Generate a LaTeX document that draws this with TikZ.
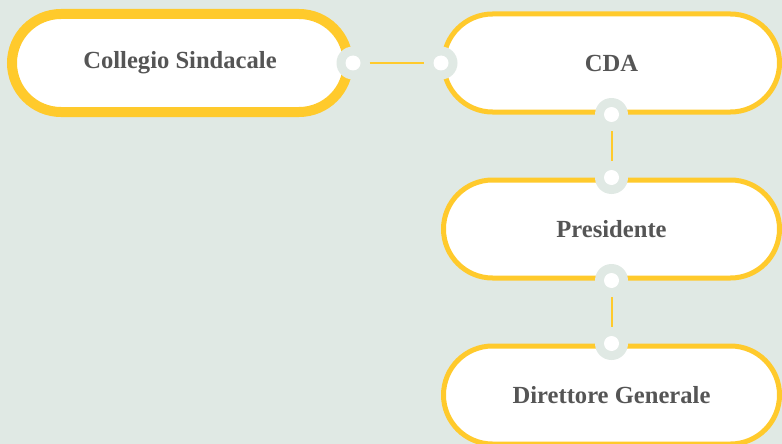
\documentclass[tikz,border=0pt]{standalone}
\usepackage{fontspec}
\newfontfamily\orgfont{Liberation Serif}
\usetikzlibrary{shapes.misc}

\definecolor{bgcol}{HTML}{E0E9E4}
\definecolor{pillline}{HTML}{FFCA2C}
\definecolor{labelcol}{HTML}{555555}

\tikzset{
  pill/.style={rounded rectangle, draw=pillline, line width=5pt, fill=white,
    minimum width=336pt, minimum height=98pt, inner sep=0pt,
    font=\orgfont\bfseries\fontsize{24.6}{28}\selectfont, text=labelcol},
  joint/.style={circle, fill=bgcol, minimum size=33pt, inner sep=0pt,
    path picture={\fill[white] (path picture bounding box.center) circle (7.5pt);}},
  link/.style={draw=pillline, line width=2pt}
}

\begin{document}
\begin{tikzpicture}[x=1pt,y=-1pt]

\fill [bgcol] (0,0) rectangle (782,444);
\useasboundingbox (0,0) rectangle (782,444);

%% Boxes
\node [pill, line width=10pt] (sindacale) at (180,63) {Collegio Sindacale};
\node [pill] (cda) at (611.5,63) {CDA};
\node [pill] (presidente) at (611.5,229) {Presidente};
\node [pill] (direttore) at (611.5,395) {Direttore Generale};

%% Joints on the borders
\node [joint] (sindacale-e) at (sindacale.east) {};
\node [joint] (cda-w) at (cda.west) {};
\node [joint] (cda-s) at (cda.south) {};
\node [joint] (presidente-n) at (presidente.north) {};
\node [joint] (presidente-s) at (presidente.south) {};
\node [joint] (direttore-n) at (direttore.north) {};

%% Links
\draw [link] (sindacale-e) -- (cda-w);
\draw [link] (cda-s) -- (presidente-n);
\draw [link] (presidente-s) -- (direttore-n);

\end{tikzpicture}
\end{document}
